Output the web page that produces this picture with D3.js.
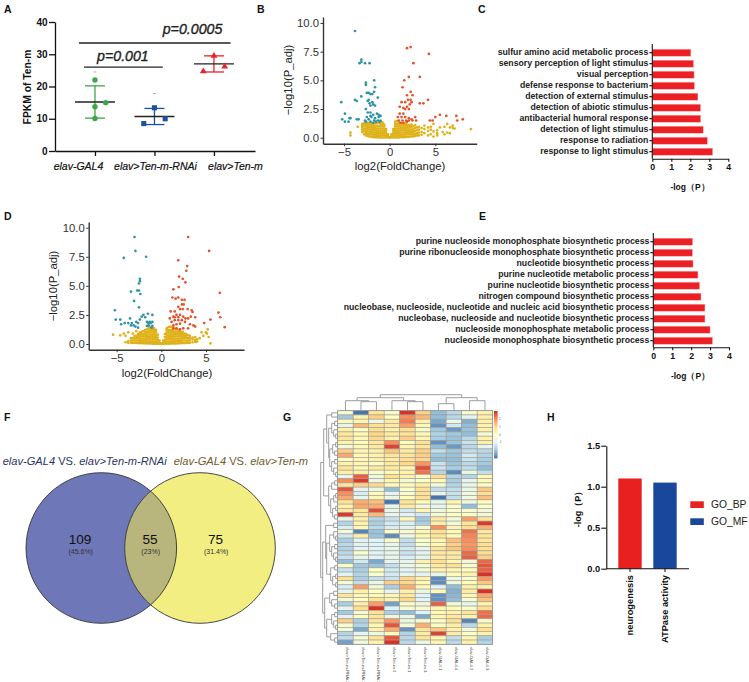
<!DOCTYPE html>
<html><head><meta charset="utf-8">
<script src="https://cdnjs.cloudflare.com/ajax/libs/d3/7.8.5/d3.min.js"></script>
<style>html,body{margin:0;padding:0;background:#fff}svg{display:block;font-family:"Liberation Sans",Arial,sans-serif}</style>
</head><body><svg id="c" width="749" height="682"></svg>
<script>
// ---------- Panel A
const groupsA = ["elav-GAL4","elav>Ten-m-RNAi","elav>Ten-m"];
const meansA = [15.2,10.7,27];
const sdsA = [5,2.5,2.5];
const pointsA = [[0,0,22],[0,0.18,15],[0,0,13.7],[0,0,10.1]];
const pointsA2 = [[1,0,13.4],[1,0.18,10],[1,-0.18,8.5]];
const pointsA3 = [[2,0,29.5],[2,0.18,26.2],[2,-0.18,24.7]];
const straysA = [[0,24.5],[1,17.8]];
const sigA = [[-0.185,1.14,26,"p=0.001",-0.08,61],[-0.27,2.28,33.5,"p=0.0005",1.64,34]];
const colorsA = ["#3fa548","#1d4f9f","#e8232a"];
// ---------- Panel B volcano
const tealB = [[-3.8,9.3],[-3.1,6.8],[-3.3,6.5],[-3.1,6.6],[-2.7,6.5],[-2.2,6.5],[-1.7,5.0],[-2.6,4.8],[-2.6,4.6],[-1.6,4.4],[-2.5,3.9],[-2.3,3.9],[-2.1,3.8],[-1.7,4.0],[-1.9,3.8],[-5.3,3.1],[-3.8,3.3],[-3.6,3.2],[-3.1,3.6],[-2.3,3.3],[-1.9,3.1],[-1.3,3.5],[-2.4,3.2],[-2.2,3.0],[-2.1,2.8],[-1.6,2.8],[-1.8,2.9],[-2.6,2.5],[-2.4,2.2],[-2.1,2.2],[-4.9,2.1],[-5.2,1.6],[-4.4,1.7],[-4.3,1.7],[-4.9,1.4],[-4.5,1.4],[-3.6,1.6],[-3.4,1.6],[-2.5,1.8],[-2.1,1.9],[-1.8,2.0],[-1.4,2.1],[-2.7,1.5],[-2.3,1.6],[-2.0,1.8],[-1.6,1.7],[-1.2,1.8],[-1.0,1.9],[-2.6,1.4],[-2.1,1.4],[-1.7,1.5],[-1.3,1.5],[-1.0,1.5],[-1.8,1.3],[-1.5,1.4],[-1.1,1.4],[-1.2,2.0]];
const redB = [[1.9,7.8],[2.3,7.9],[4.3,7.3],[2.6,6.5],[3.3,5.3],[2.1,5.3],[1.6,5.0],[1.4,4.4],[2.3,4.0],[1.9,3.7],[2.5,3.7],[4.2,3.3],[3.3,3.0],[3.7,3.0],[1.3,3.1],[1.7,3.1],[2.0,3.3],[2.3,3.3],[2.4,3.1],[1.1,2.7],[1.5,2.6],[1.9,2.7],[2.2,2.9],[2.1,2.5],[1.7,2.5],[1.1,2.1],[1.5,2.1],[0.9,1.8],[1.3,1.8],[1.7,1.8],[2.1,1.7],[2.4,1.6],[2.8,1.8],[1.0,1.5],[1.4,1.5],[1.8,1.5],[2.1,1.5],[2.5,1.5],[2.9,1.5],[4.4,1.5],[4.7,1.5],[5.5,2.0],[5.0,1.8],[6.2,1.9],[7.3,1.9],[7.4,1.5],[8.0,1.6],[1.2,1.3],[1.5,1.3],[1.9,1.4]];
const goldB = [[-4.3,[.2,.45]],[-3.5,[.95]],[-3,[.5,.7,.9,1.05,1.2]],[-2.8,[.3,.55,.8,1.05,1.25]],[-2.6,[.2,.4,.6,.8,1,1.2]],[-2.4,[.15,.35,.55,.75,.95,1.15,1.3]],[-2.2,[.1,.3,.5,.7,.9,1.1,1.3]],[-2,[.1,.3,.5,.7,.9,1.1,1.3]],[-1.8,[.05,.25,.45,.65,.85,1.05,1.25]],[-1.6,[.05,.25,.45,.65,.85,1.05,1.3]],[-1.4,[.05,.2,.4,.6,.8,1,1.25]],[-1.2,[.03,.2,.4,.6,.8,1,1.3]],[-1,[.03,.2,.4,.6,.8,1,1.2,1.4]],[-.8,[.02,.2,.4,.6,.8,1,1.2,1.35]],[-.6,[.02,.2,.4,.6,.8,1,1.15]],[-.4,[.02,.2,.4,.6,.75]],[-.2,[.02,.15,.3]],[0,[.01,.05]],[.2,[.02,.15,.3]],[.4,[.02,.2,.4,.6,.75]],[.6,[.02,.2,.4,.6,.8,1,1.2,1.4]],[.8,[.03,.2,.4,.6,.8,1,1.2,1.45]],[1,[.03,.2,.4,.6,.8,1,1.2,1.35]],[1.2,[.05,.25,.45,.65,.85,1.05,1.25]],[1.4,[.05,.25,.45,.65,.85,1.05,1.25]],[1.6,[.05,.25,.45,.65,.85,1.05,1.2]],[1.8,[.08,.3,.5,.7,.9,1.1,1.25]],[2,[.08,.3,.5,.7,.9,1.1]],[2.2,[.1,.3,.5,.7,.9,1.1]],[2.4,[.1,.3,.5,.7,.95,1.15]],[2.6,[.12,.35,.55,.75,1]],[2.8,[.15,.35,.6,.85,1.1]],[3,[.2,.4,.65,.9]],[3.2,[.2,.45,.7,.95]],[3.5,[.25,.5,.85]],[3.8,[.4,.75,1.05]],[4.2,[.2,.6,.9]],[4.5,[.3,.7,.95]],[4.8,[.1,.55,1.2]],[5.2,[.2,.4,.65]],[5.5,[.9]],[5.8,[.5]],[6,[.3,.95]],[6.3,[.45,1.2]],[6.6,[.4,.9]],[6.9,[.85,1.05]],[7.1,[.8]],[8.9,[.75]]];
// ---------- Panel C
const termsC = ["sulfur amino acid metabolic process","sensory perception of light stimulus","visual perception","defense response to bacterium","detection of external stimulus","detection of abiotic stimulus","antibacterial humoral response","detection of light stimulus","response to radiation","response to light stimulus"];
const valuesC = [2.03,2.17,2.2,2.22,2.4,2.54,2.55,2.68,2.9,3.18];
// ---------- Panel D volcano
const tealD = [[-3.0,9.2],[-2.9,8.0],[-1.7,7.5],[-4.2,7.4],[-2.4,5.6],[-2.4,5.4],[-2.5,5.2],[-3.4,4.5],[-2.7,4.6],[-2.5,4.6],[-2.35,4.3],[-3.05,3.7],[-2.5,3.15],[-5.2,2.9],[-5.1,2.1],[-4.6,2.1],[-4.1,1.8],[-4.5,1.7],[-3.5,2.2],[-3.7,1.8],[-3.3,1.8],[-3.1,1.6],[-2.9,1.5],[-2.6,1.4],[-2.4,2.1],[-2.2,2.35],[-2.0,2.5],[-1.5,2.6],[-1.0,2.5],[-1.6,1.9],[-1.45,1.8],[-1.2,1.8],[-1.0,1.9],[-1.6,1.55],[-1.4,1.6],[-1.0,1.55],[-3.4,1.6],[-2.8,1.9],[-2.6,1.8],[-1.8,2.3],[-1.1,1.4],[-1.3,1.9]];
const redD = [[3.0,9.2],[5.35,8.0],[1.9,7.2],[2.9,6.7],[2.8,6.3],[2.0,5.8],[2.4,5.6],[2.7,5.3],[1.35,4.7],[1.95,4.9],[6.55,4.4],[1.25,4.0],[1.6,3.9],[1.9,4.0],[2.3,3.8],[2.6,3.8],[1.05,2.8],[1.5,2.8],[1.9,3.2],[2.3,3.4],[2.5,3.4],[2.1,3.0],[2.4,3.0],[2.95,3.0],[3.4,2.9],[3.5,2.75],[6.4,2.7],[6.6,2.3],[5.5,2.1],[4.8,1.8],[7.1,1.45],[3.8,2.3],[3.3,2.35],[3.0,2.2],[0.95,2.2],[1.35,2.35],[1.7,2.5],[2.1,2.5],[2.45,2.35],[2.7,2.2],[1.15,1.9],[1.5,2.05],[1.9,2.05],[2.3,2.05],[2.65,1.9],[1.35,1.6],[1.7,1.7],[2.1,1.75],[3.6,1.6],[3.8,1.5],[1.35,1.35],[1.7,1.35],[2.1,1.25],[2.45,1.35],[3.0,1.35],[3.2,1.7],[1.5,2.3],[1.9,2.3]];
const goldD = [[-5.4,[.8]],[-4.6,[.75]],[-4.2,[.9]],[-4,[.15,.7]],[-3.7,[.1,.25,1]],[-3.4,[.1,.3,.5]],[-3.2,[.1,.3,.5,.9]],[-3,[.1,.3,.5,.7]],[-2.8,[.1,.3,.5,.7,1.1]],[-2.6,[.08,.3,.5,.7,.85]],[-2.4,[.08,.25,.45,.65,.85,1]],[-2.2,[.08,.25,.45,.65,.85,1.05]],[-2,[.06,.25,.45,.65,.85,1.1]],[-1.8,[.06,.25,.45,.65,.85,1.05,1.2]],[-1.6,[.05,.2,.4,.6,.8,1,1.25]],[-1.4,[.05,.2,.4,.6,.8,1,1.2,1.4]],[-1.2,[.05,.2,.4,.6,.8,1,1.2,1.45]],[-1,[.03,.2,.4,.6,.8,1,1.2,1.4]],[-.8,[.03,.2,.4,.6,.8,1,1.2,1.35]],[-.6,[.02,.2,.4,.6,.8,1,1.2]],[-.4,[.02,.15,.35,.55,.8]],[-.2,[.02,.12,.3]],[0,[.01,.05]],[.2,[.02,.12,.3]],[.4,[.02,.15,.35,.6,.85]],[.6,[.02,.2,.4,.6,.8,1,1.2,1.35]],[.8,[.03,.2,.4,.6,.8,1,1.2,1.45]],[1,[.03,.2,.4,.6,.8,1,1.2,1.5]],[1.2,[.05,.2,.4,.6,.8,1,1.2,1.45]],[1.4,[.05,.25,.45,.65,.85,1.05,1.25,1.4]],[1.6,[.05,.25,.45,.65,.85,1.05,1.25]],[1.8,[.06,.25,.45,.65,.85,1.05,1.25]],[2,[.06,.25,.45,.65,.85,1.05,1.2]],[2.2,[.08,.25,.45,.65,.85,1.05]],[2.4,[.08,.3,.5,.7,.9,1.05]],[2.6,[.08,.3,.5,.7,.9]],[2.8,[.1,.3,.5,.7,.85]],[3,[.1,.3,.5,.75]],[3.2,[.1,.3,.5,.7]],[3.5,[.15,.4,.55]],[3.8,[.2,.35,.6]],[4,[.2,.4]],[4.3,[.5]],[4.5,[1]],[4.7,[.7]],[5,[1]],[5.1,[.9]],[5.2,[1.25]],[5.3,[.6]],[5.5,[.05]]];
// ---------- Panel E
const termsE = ["purine nucleoside monophosphate biosynthetic process","purine ribonucleoside monophosphate biosynthetic process","nucleotide biosynthetic process","purine nucleotide metabolic process","purine nucleotide biosynthetic process","nitrogen compound biosynthetic process","nucleobase, nucleoside, nucleotide and nucleic acid biosynthetic process","nucleobase, nucleoside and nucleotide biosynthetic process","nucleoside monophosphate metabolic process","nucleoside monophosphate biosynthetic process"];
const valuesE = [2.08,2.07,2.1,2.36,2.45,2.52,2.73,2.73,3.0,3.13];
// ---------- Panel F
const vennCounts = [109,55,75];
const vennPercents = ["(45.6%)","(23%)","(31.4%)"];
// ---------- Panel G
const heatColumns = ["elav>Ten-m-RNAi.2","elav>Ten-m-RNAi.1","elav>Ten-m-RNAi.3","elav>Ten-m.2","elav>Ten-m.1","elav>Ten-m.3","elav-GAL4.1","elav-GAL4.4","elav-GAL4.2","elav-GAL4.3"];
const heatRows = [
[-.3,-3,.8,-.2,3,1.2,-2,-1.5,-.3,.4],[-1.8,.4,1.2,0,2,1.5,-2,-1.5,-.8,.5],[.2,.3,-.6,.7,2.2,.4,-2.3,-.7,-2.2,.5],[-.8,1.5,1,.7,1.8,.2,-2.6,-1.2,-2,.4],[.5,-.1,1,.5,1,-.2,-1.8,-2.5,-1.9,.5],
[.7,.2,1.1,.6,.9,.2,-1.6,-1.8,-2,-.4],[.8,.2,1.1,.4,1.2,.3,-1.7,-1.9,-1.5,.4],[.4,.1,.7,2,.1,1,-2.6,-1.9,-1.3,.5],[-.4,.2,.7,2.8,.3,.8,-2,-2.5,-1.5,-.8],[1.2,.3,.5,1.3,.6,1.2,-1.4,-1.8,-1.4,-1.5],
[1.7,.2,.4,.8,.8,1.2,-1.8,-1.9,-1.2,-1.6],[-.2,.3,.5,.6,1,1.1,-2,-2,-1.3,-1.7],[.4,.3,-.1,.7,1.1,1.9,-1.3,-1.9,-1.5,-1.8],[.8,.2,.7,.6,.3,2.7,-1.3,-1.7,-1.4,-2],[.5,.4,-.2,.2,.4,2.3,-1.6,-2.7,-.7,-1.4],
[-.8,2.5,-.5,1,.5,-.3,1,-1.6,-1.6,.2],[2,2.9,-.6,.3,-.4,-.1,.2,-1.7,-.8,.2],[.7,1.2,1.1,.2,.1,.5,-.4,-1.6,-.7,-.2],[2.6,-.9,-.7,-2,-.2,1,-1.4,-1.4,-.7,1.3],[2,-1.1,.2,-.9,-.3,.9,-.9,-1.3,-.5,1],
[1.7,-.8,.3,-.6,.1,1,-3,-1.4,-.5,1.4],[.9,1.6,1.4,-3,.8,.1,-.7,.3,-.6,-.1],[.4,1.7,1.6,-.8,.7,-.5,-.8,-.3,-2,-.2],[.7,.8,2.7,-.7,-1.2,.3,-.5,-.2,-.3,-.5],[2.9,.7,1.5,-.8,-1,-1.2,-.4,-.1,-.1,-.5],
[-.7,.5,-1.6,-1.3,.3,-1.8,.7,-.4,1.8,.8],[-1.6,.4,-1.7,-1.2,-1.1,-1.7,.5,-.5,.8,2.9],[-1.1,.2,-1.5,-1.1,-.9,-.3,2,.3,1,1.6],[-.4,-2.8,-1.9,-.2,-.3,.3,.9,.2,2.3,.7],[-1.2,.5,-1.9,-2.7,-.6,.2,.8,.1,2.1,.8],
[-1.7,-1,-1,-.3,-1.4,-.2,.3,1.4,2,.8],[-1.5,-1,-1,-.7,-1.4,-.3,.2,1.2,1.9,1],[-1.6,-.9,-1,-.8,-1.2,-.8,.8,1.3,2,1],[-1.5,-.2,-1,-.7,-1.3,-.9,.7,.6,2.4,1],[-1.3,-.8,-1,-.8,-1.1,-.9,.6,.7,2.5,1.2],
[-2,-1.2,-2.3,-.9,-.8,.4,1,.3,-.5,2.4],[-.2,-1.8,-1.9,-1.4,-.6,-.4,.7,1,-.2,2.6],[-1.3,-1.7,0,-1.2,-1,-.4,.4,.3,0,2.5],[-1,-1.6,-.2,-1.2,-.8,-.9,-.7,.1,.4,3],[1,-1.7,-1.4,-1.3,1.1,.4,-2.7,-.6,-.2,1.9],
[-.4,-1.4,-.7,1.2,1.1,.2,-2.7,-.5,.1,1.3],[-1.1,1.8,-.5,-1.7,1.6,.2,-1,-2,.5,.4],[-.9,.4,0,-.8,.5,-.7,.2,-2.2,.6,3],[.8,.3,.2,.3,.7,-1,-2.6,-2.1,.3,1.7],[-.4,-.1,.8,.4,1.1,-1,-2.6,-2,-.3,1.4],
[-1.7,.5,1.8,-2.4,-.2,-.5,2.5,-.4,-.8,.3],[-.8,1,3,-1,-.3,-.3,.3,.1,-.3,1],[-1.8,-.4,.9,-1.7,-2,-1,.2,.4,.8,2.3],[-1,.1,.8,-.7,-.7,-2.3,.3,.7,.4,2.4],[1.2,-1.7,.8,1.9,-.6,-.3,-.1,1,-2.8,-.2],
[-.3,-1.6,.3,2.6,-.4,1.6,0,.5,-1.5,.5],[-.4,-2.3,.4,1.6,-2.6,.8,1.3,.4,-.4,1],[-1.6,-.8,-.7,.1,-1.6,.6,2.8,.6,-.1,.4],[-1.4,-.4,.9,2.6,-1.5,.8,.3,-1.4,.3,-1.7],[-2.4,-.5,.4,3,-1.5,-.6,.3,-1.5,.5,-1.6]];
const heatStops = ["#4575b4","#91bfdb","#e0f3f8","#ffffbf","#fee090","#fc8d59","#d73027"];
const heatDomain = [-3,-2,-1,0,1,2,3];
const columnTree = [16,[13,[10,0,[9,0,0]],[10,0,[9,0,0]]],[13,[7,0,0],[10,0,0]]];
const rowTree = [17,[14,[11,[6,0,0],[9,[6,[3,0,0],[4,0,[2,0,0]]],[8,[5,[2,0,0],[3,0,0]],[6,[3,0,0],[4,0,[2,0,0]]]]]],[9,[6,[3,0,0],0],[7,[4,[2,0,0],0],[5,[2,0,0],[3,0,0]]]]],[15,[12,[4,0,0],[11,[8,[4,0,[2,0,0]],[6,[3,0,0],[4,0,[2,0,0]]]],[7,[3,0,0],[5,[2,0,0],[2,0,0]]]]],[13,[8,[4,0,0],[6,0,[3,0,0]]],[11,[6,[3,0,0],[4,0,[2,0,0]]],[7,0,[3,0,0]]]]]];
// ---------- Panel H
const categoriesH = ["neurogenesis","ATPase activity"];
const valuesH = [1.1,1.05];
const legendH = ["GO_BP","GO_MF"];
const colorsH = ["#e8201f","#19479c"];

// ================= drawing
const svg = d3.select("#c");
function letter(t,x,y){svg.append("text").attr("x",x).attr("y",y).attr("font-size",10.5).attr("font-weight",700).attr("fill","#111").text(t);}
[["A",4,13],["B",257,13],["C",478,13],["D",4,219.5],["E",479,219.5],["F",4,421],["G",283,421],["H",547,421]].forEach(d=>letter(...d));

function styleAxis(g,opts){
  g.selectAll("path.domain").attr("stroke",opts.color||"#111").attr("stroke-width",opts.w||1.3);
  g.selectAll(".tick line").attr("stroke",opts.color||"#111").attr("stroke-width",opts.tw||opts.w||1.1);
  g.selectAll(".tick text").attr("font-size",opts.size||9).attr("font-weight",opts.weight||700).attr("fill",opts.text||"#111").attr("font-family",'"Liberation Sans",Arial,sans-serif');
}

// --- A
(function(){
  const x=d3.scaleLinear([-0.672,2.69],[55,255]), y=d3.scaleLinear([0,40],[151,22]);
  const gy=svg.append("g").attr("transform","translate(55,0)").call(d3.axisLeft(y).tickValues([0,10,20,30,40]).tickSize(6).tickSizeOuter(0).tickPadding(1.5));
  styleAxis(gy,{w:1.3,size:10});
  const gx=svg.append("g").attr("transform","translate(0,151)").call(d3.axisBottom(x).tickValues([0,1,2]).tickSize(5).tickSizeOuter(0).tickFormat(i=>groupsA[i]));
  styleAxis(gx,{w:1.3,size:10.5});
  gx.selectAll(".tick text").attr("font-style","italic").attr("font-weight",400).attr("stroke","#111").attr("stroke-width",.2).attr("y",11.5).attr("dx",(d,i)=>[-17,0.5,21][i]);
  svg.append("text").attr("transform","translate(31,87) rotate(-90)").attr("text-anchor","middle").attr("font-size",10.3).attr("font-weight",700).attr("fill","#111").text("FPKM of Ten-m");
  const hw=0.336, capw=0.168;
  groupsA.forEach((g,i)=>{
    const c=colorsA[i], gp=svg.append("g");
    const m=meansA[i],s=sdsA[i];
    gp.append("line").attr("x1",x(i)).attr("x2",x(i)).attr("y1",y(m-s)).attr("y2",y(m+s)).attr("stroke",c).attr("stroke-width",1.3);
    [m-s,m+s].forEach(v=>gp.append("line").attr("x1",x(i-capw)).attr("x2",x(i+capw)).attr("y1",y(v)).attr("y2",y(v)).attr("stroke",c).attr("stroke-width",1.3));
    gp.append("line").attr("x1",x(i-hw)).attr("x2",x(i+hw)).attr("y1",y(m)).attr("y2",y(m)).attr("stroke","#222").attr("stroke-width",1.3);
  });
  svg.append("g").selectAll("circle").data(pointsA).join("circle").attr("cx",d=>x(d[0]+d[1])).attr("cy",d=>y(d[2])).attr("r",2.7).attr("fill",colorsA[0]);
  svg.append("g").selectAll("path").data(pointsA2).join("path").attr("d",d3.symbol(d3.symbolSquare,26)).attr("transform",d=>`translate(${x(d[0]+d[1])},${y(d[2])})`).attr("fill",colorsA[1]);
  svg.append("g").selectAll("path").data(pointsA3).join("path").attr("d",d3.symbol(d3.symbolTriangle,20)).attr("transform",d=>`translate(${x(d[0]+d[1])},${y(d[2])})`).attr("fill",colorsA[2]);
  svg.append("g").selectAll("line").data(straysA).join("line").attr("x1",d=>x(d[0])-1.5).attr("x2",d=>x(d[0])+1.5).attr("y1",d=>y(d[1])).attr("y2",d=>y(d[1])).attr("stroke","#999").attr("stroke-width",.8);
  sigA.forEach(d=>{
    svg.append("line").attr("x1",x(d[0])).attr("x2",x(d[1])).attr("y1",y(d[2])).attr("y2",y(d[2])).attr("stroke","#222").attr("stroke-width",1.4);
    svg.append("text").attr("x",x(d[4]+(d[3]==="p=0.001"?0.55:0))).attr("y",d[5]).attr("text-anchor","middle").attr("font-size",14.2).attr("font-style","italic").attr("font-weight",400).attr("stroke","#222").attr("stroke-width",.35).attr("fill","#222").text(d[3]);
  });
})();

// --- Volcano
function volcano(o){
  const x=d3.scaleLinear(o.xd,o.xr), y=d3.scaleLinear(o.yd,o.yr);
  const gy=svg.append("g").attr("transform",`translate(${o.xr[0]},0)`).call(d3.axisLeft(y).tickValues([0,2.5,5,7.5,10]).tickFormat(d3.format(".1f")).tickSize(2.5).tickSizeOuter(0).tickPadding(1.5));
  styleAxis(gy,{color:"#333",w:1.4,tw:1,size:11.3,weight:400,text:"#333"});
  const gx=svg.append("g").attr("transform",`translate(0,${o.yr[0]})`).call(d3.axisBottom(x).tickValues([-5,0,5]).tickFormat(d=>d<0?"\u2212"+Math.abs(d):d).tickSize(2.5).tickSizeOuter(0).tickPadding(1.5));
  styleAxis(gx,{color:"#333",w:1.4,tw:1,size:11.3,weight:400,text:"#333"});
  svg.append("text").attr("x",o.titleX).attr("y",o.titleY).attr("text-anchor","middle").attr("font-size",11.3).attr("fill","#222").text("log2(FoldChange)");
  svg.append("text").attr("transform",`translate(${o.ylabX},${o.ylabY}) rotate(-90)`).attr("text-anchor","middle").attr("font-size",11.3).attr("fill","#222").text("\u2212log10(P_adj)");
  const gold=o.gold.flatMap(c=>c[1].map(v=>[c[0],v]));
  const dots=(data,col)=>svg.append("g").selectAll("circle").data(data).join("circle").attr("cx",d=>x(d[0])).attr("cy",d=>y(d[1])).attr("r",1.35).attr("fill",col);
  dots(gold,"#dfb118");dots(o.teal,"#2f93a6");dots(o.red,"#e3532b");
}
volcano({xd:[-7.3,9.53],xr:[323,476.7],yd:[-.52,10.52],yr:[143.7,17],gold:goldB,teal:tealB,red:redB,titleX:400,titleY:170,ylabX:292,ylabY:80});
volcano({xd:[-8.13,9.26],xr:[88.7,244],yd:[-.49,10.49],yr:[349.7,222],gold:goldD,teal:tealD,red:redD,titleX:167,titleY:377,ylabX:57,ylabY:286});

// --- GO bars
function goBars(o){
  const y=d3.scaleBand().domain(o.terms).range(o.yr).paddingInner(.36).paddingOuter(.18);
  const x=d3.scaleLinear([0,4],o.xr);
  svg.append("g").selectAll("rect").data(o.terms).join("rect").attr("x",x(0)).attr("y",t=>y(t)).attr("height",y.bandwidth()).attr("width",(t,i)=>x(o.vals[i])-x(0)).attr("fill","#ec1f24").attr("stroke","#f8b8b8").attr("stroke-width",.5);
  const gy=svg.append("g").attr("transform",`translate(${o.xr[0]},0)`).call(d3.axisLeft(y).tickSize(3).tickSizeOuter(0).tickPadding(1));
  styleAxis(gy,{w:1.1,size:8.7,text:"#222"});
  gy.select("path.domain").attr("d",`M0,${o.ax[0]}V${o.ax[1]}`);
  const gx=svg.append("g").attr("transform",`translate(0,${o.ax[1]})`).call(d3.axisBottom(x).ticks(4).tickSize(3).tickSizeOuter(0).tickPadding(2));
  styleAxis(gx,{w:1.1,size:8.8});
  svg.append("text").attr("x",o.labX).attr("y",o.labY).attr("text-anchor","middle").attr("font-size",8.5).attr("font-weight",700).attr("fill","#111").text("-log\uFF08P\uFF09");
}
goBars({terms:termsC,vals:valuesC,yr:[47.2,157.2],ax:[44,158.7],xr:[652.3,728.3],labX:690,labY:190});
goBars({terms:termsE,vals:valuesE,yr:[236.2,346.2],ax:[233,347.3],xr:[653.3,729],labX:690.5,labY:379});

// --- Venn
(function(){
  const cy=548,r=75.3;
  svg.append("circle").attr("cx",101.3).attr("cy",cy).attr("r",r).attr("fill","#6e77b8");
  svg.append("circle").attr("cx",200).attr("cy",cy).attr("r",r).attr("fill","#f3ee82");
  const defs=svg.append("defs");
  defs.append("clipPath").attr("id","vc").append("circle").attr("cx",101.3).attr("cy",cy).attr("r",r);
  svg.append("circle").attr("cx",200).attr("cy",cy).attr("r",r).attr("fill","#b8b67c").attr("clip-path","url(#vc)");
  [101.3,200].forEach(c=>svg.append("circle").attr("cx",c).attr("cy",cy).attr("r",r).attr("fill","none").attr("stroke","#333").attr("stroke-width",.9));
  [80,150,215.5].forEach((x,i)=>{
    svg.append("text").attr("x",x).attr("y",544).attr("text-anchor","middle").attr("font-size",13.6).attr("fill","#111").text(vennCounts[i]);
    svg.append("text").attr("x",x+.7).attr("y",554).attr("text-anchor","middle").attr("font-size",7).attr("fill","#333").text(vennPercents[i]);
  });
  const t=(x,c,tail)=>{const e=svg.append("text").attr("x",x).attr("y",465).attr("font-size",11.1).attr("fill",c);
    e.append("tspan").attr("font-style","italic").text("elav-GAL4");e.append("tspan").text(" VS. ");e.append("tspan").attr("font-style","italic").text(tail);};
  t(2.7,"#2b3563","elav>Ten-m-RNAi");t(173.7,"#6f5c2e","elav>Ten-m");
})();

// --- Heatmap
(function(){
  const L=337.7,R=492.7,T=410.7,B=644.3;
  const x=d3.scaleBand().domain(d3.range(heatColumns.length)).range([L,R]);
  const y=d3.scaleBand().domain(d3.range(heatRows.length)).range([T,B]);
  const color=d3.scaleLinear().domain(heatDomain).range(heatStops);
  svg.append("g").selectAll("g").data(heatRows).join("g").each(function(row,ri){
    d3.select(this).selectAll("rect").data(row).join("rect").attr("x",(d,i)=>x(i)).attr("y",y(ri)).attr("width",x.bandwidth()).attr("height",y.bandwidth()).attr("fill",d=>color(d)).attr("stroke","#a09c94").attr("stroke-width",.6);
  });
  svg.append("rect").attr("x",L).attr("y",T).attr("width",R-L).attr("height",B-T).attr("fill","none").attr("stroke","#8f8f8f").attr("stroke-width",.7);
  function layout(tree,pos,cb){
    let leaf=0;
    (function walk(n){
      if(!Array.isArray(n)) return {p:pos(leaf++),h:0};
      const a=walk(n[1]),b=walk(n[2]);
      cb(a,b,n[0]);
      return {p:(a.p+b.p)/2,h:n[0]};
    })(tree);
  }
  const dg=svg.append("g").attr("fill","none").attr("stroke","#939393").attr("stroke-width",.9);
  const line=d3.line();
  layout(columnTree,i=>x(i)+x.bandwidth()/2,(a,b,h)=>{
    dg.append("path").attr("d",line([[a.p,T-a.h],[a.p,T-h],[b.p,T-h],[b.p,T-b.h]]));
  });
  layout(rowTree,i=>y(i)+y.bandwidth()/2,(a,b,h)=>{
    dg.append("path").attr("d",line([[L-a.h,a.p],[L-h,a.p],[L-h,b.p],[L-b.h,b.p]]));
  });
  const cbY=d3.scaleLinear([3,-3],[411,458]);
  svg.append("g").selectAll("rect").data(d3.range(-3,3,0.125)).join("rect").attr("x",494).attr("y",d=>cbY(d+0.125)).attr("width",3.5).attr("height",d=>cbY(d)-cbY(d+0.125)+.4).attr("fill",d=>color(d+.06));
  svg.append("g").selectAll("text").data([2,1,0,-1]).join("text").attr("x",499).attr("y",d=>cbY(d)+1).attr("font-size",2.8).attr("fill","#555").text(d=>d);
  svg.append("g").selectAll("text").data(heatColumns).join("text").attr("transform",(d,i)=>`translate(${x(i)+x.bandwidth()/2+1},647) rotate(90)`).attr("font-size",4.2).attr("fill","#444").text(d=>d);
})();

// --- H
(function(){
  const y=d3.scaleLinear([0,1.5],[568.7,445.7]);
  const bw=23.4, cx=[630,665];
  svg.append("g").selectAll("rect").data(categoriesH).join("rect").attr("x",(d,i)=>cx[i]-bw/2).attr("width",bw).attr("y",(d,i)=>y(valuesH[i])).attr("height",(d,i)=>y(0)-y(valuesH[i])).attr("fill",(d,i)=>colorsH[i]);
  const gy=svg.append("g").attr("transform","translate(606.3,0)").call(d3.axisLeft(y).tickValues([0,.5,1,1.5]).tickFormat(d3.format(".1f")).tickSize(5).tickSizeOuter(0).tickPadding(1));
  styleAxis(gy,{w:1.1,size:9.3});
  svg.append("line").attr("x1",606.3).attr("x2",689).attr("y1",568.7).attr("y2",568.7).attr("stroke","#111").attr("stroke-width",1.1);
  categoriesH.forEach((c,i)=>{
    svg.append("line").attr("x1",cx[i]).attr("x2",cx[i]).attr("y1",568.7).attr("y2",572).attr("stroke","#111");
    svg.append("text").attr("transform",`translate(${cx[i]+3},575) rotate(-90)`).attr("text-anchor","end").attr("font-size",9.3).attr("font-weight",700).attr("fill","#111").text(c);
  });
  svg.append("text").attr("transform","translate(581,507) rotate(-90)").attr("text-anchor","middle").attr("font-size",9).attr("font-weight",700).attr("fill","#111").text("-log\uFF08P\uFF09");
  legendH.forEach((l,i)=>{
    svg.append("rect").attr("x",690.3).attr("y",501.3+i*17).attr("width",13.5).attr("height",6.7).attr("fill",colorsH[i]);
    svg.append("text").attr("x",711).attr("y",508+i*17).attr("font-size",10.3).attr("fill","#222").text(l);
  });
})();
</script></body></html>
